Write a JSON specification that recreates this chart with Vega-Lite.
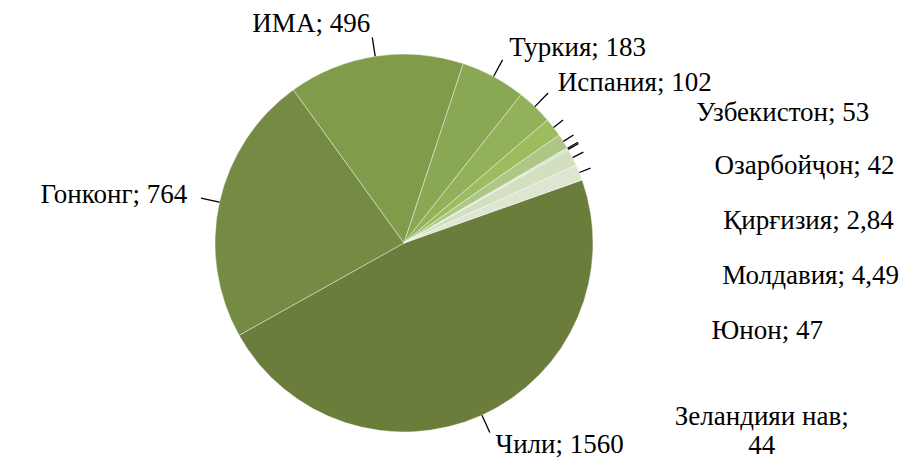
{
  "$schema": "https://vega.github.io/schema/vega-lite/v6.json",
  "width": 808,
  "height": 440,
  "autosize": {"type": "none"},
  "padding": {"left": 0, "top": 23, "right": 110, "bottom": 0},
  "background": "white",
  "config": {"view": {"stroke": null}},
  "data": {
    "values": [
      {"country": "Чили", "value": 1560, "label": "Чили; 1560"},
      {"country": "Гонконг", "value": 764, "label": "Гонконг; 764"},
      {"country": "ИМА", "value": 496, "label": "ИМА; 496"},
      {"country": "Туркия", "value": 183, "label": "Туркия; 183"},
      {"country": "Испания", "value": 102, "label": "Испания; 102"},
      {"country": "Узбекистон", "value": 53, "label": "Узбекистон; 53"},
      {"country": "Озарбойҷон", "value": 42, "label": "Озарбойҷон; 42"},
      {"country": "Қирғизия", "value": 2.84, "label": "Қирғизия; 2,84"},
      {"country": "Молдавия", "value": 4.49, "label": "Молдавия; 4,49"},
      {"country": "Юнон", "value": 47, "label": "Юнон; 47"},
      {"country": "Зеландияи нав", "value": 44, "label": "Зеландияи нав;\n44"}
    ]
  },
  "transform": [{"window": [{"op": "row_number", "as": "idx"}]}],
  "encoding": {
    "theta": {"field": "value", "type": "quantitative", "stack": true, "scale": {"range": [1.2305, 7.5137]}},
    "order": {"field": "idx", "type": "quantitative"},
    "detail": {"field": "country", "type": "nominal"}
  },
  "layer": [
    {
      "mark": {"type": "arc", "outerRadius": 189, "stroke": "#ffffff", "strokeWidth": 0.8, "strokeOpacity": 0.5},
      "encoding": {
        "color": {
          "field": "country",
          "type": "nominal",
          "scale": {
            "domain": ["Чили", "Гонконг", "ИМА", "Туркия", "Испания", "Узбекистон", "Озарбойҷон", "Қирғизия", "Молдавия", "Юнон", "Зеландияи нав"],
            "range": ["#6A7D3B", "#758B44", "#809C4B", "#8AA853", "#93B15A", "#9CBC5E", "#AEC686", "#C2D3A3", "#C9D9B1", "#D2DFC0", "#DDE6D1"]
          },
          "legend": null
        }
      }
    },
    {
      "mark": {"type": "arc", "innerRadius": 189, "outerRadius": 208, "padAngle": 3.1416, "fillOpacity": 0, "strokeWidth": 1.3},
      "encoding": {
        "stroke": {
          "condition": {"test": "indexof(['Чили','Гонконг','ИМА','Туркия','Испания'], datum.country) >= 0", "value": "#000000"},
          "value": null
        }
      }
    },
    {
      "mark": {"type": "arc", "innerRadius": 189, "outerRadius": 201, "padAngle": 3.1416, "fillOpacity": 0, "strokeWidth": 1.3},
      "encoding": {
        "stroke": {
          "condition": {"test": "indexof(['Чили','Гонконг','ИМА','Туркия','Испания'], datum.country) < 0", "value": "#000000"},
          "value": null
        }
      }
    },
    {
      "mark": {"type": "text", "radius": 222, "align": "left", "baseline": "middle", "font": "Liberation Serif", "fontSize": 27, "fill": "#000000"},
      "encoding": {
        "text": {
          "condition": {"test": "indexof(['Чили','Туркия','Испания'], datum.country) >= 0", "field": "label"},
          "value": ""
        }
      }
    },
    {
      "mark": {"type": "text", "radius": 222, "align": "right", "baseline": "middle", "font": "Liberation Serif", "fontSize": 27, "fill": "#000000"},
      "encoding": {
        "text": {
          "condition": {"test": "indexof(['Гонконг','ИМА'], datum.country) >= 0", "field": "label"},
          "value": ""
        }
      }
    },
    {
      "transform": [{"filter": {"field": "country", "oneOf": ["Узбекистон", "Озарбойҷон", "Қирғизия", "Молдавия", "Юнон"]}}],
      "mark": {"type": "text", "radius": 320, "align": "left", "baseline": "middle", "font": "Liberation Serif", "fontSize": 27, "fill": "#000000"},
      "encoding": {
        "theta": {"field": "idx", "type": "quantitative", "stack": null, "scale": {"domain": [6, 11], "range": [1.1519, 2.0246]}},
        "text": {"field": "label"}
      }
    },
    {
      "transform": [{"filter": {"field": "country", "equal": "Зеландияи нав"}}],
      "mark": {"type": "text", "radius": 398, "align": "center", "baseline": "middle", "lineBreak": "\n", "font": "Liberation Serif", "fontSize": 27, "fill": "#000000"},
      "encoding": {
        "theta": {"field": "idx", "type": "quantitative", "stack": null, "scale": {"domain": [6, 11], "range": [1.1519, 2.0246]}},
        "text": {"field": "label"}
      }
    }
  ],
  "resolve": {"scale": {"theta": "independent"}}
}
